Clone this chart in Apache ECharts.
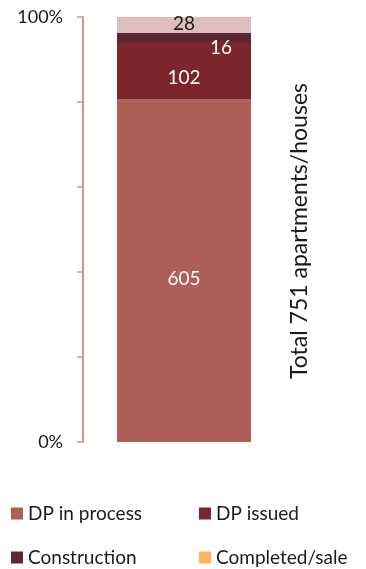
<!DOCTYPE html>
<html>
<head>
<meta charset="utf-8">
<script src="https://cdn.jsdelivr.net/npm/echarts@6/dist/echarts.min.js"></script>
<style>html,body{margin:0;padding:0;background:#fff;}#c{width:366px;height:569px;}</style>
</head>
<body>
<div id="c"></div>
<script>
var categories = ['Total'];
var dpInProcess = [605];
var dpIssued = [102];
var construction = [16];
var completedSale = [28];
var yTickLabels = ['0%', '100%'];
var sideTitle = 'Total 751 apartments/houses';

var total = dpInProcess[0] + dpIssued[0] + construction[0] + completedSale[0];
function pct(arr) { return arr.map(function (v) { return v / total * 100; }); }
var FONT = 'Lato';
var TXT = '#1a1a1a';

function legendItem(name, left, top) {
  return { left: left, top: top, orient: 'horizontal', itemWidth: 12, itemHeight: 12,
    icon: 'rect', data: [name], selectedMode: false,
    textStyle: { fontSize: 19, color: TXT, fontFamily: FONT } };
}

var chart = echarts.init(document.getElementById('c'));
chart.setOption({
  animation: false,
  textStyle: { fontFamily: FONT },
  grid: { left: 83, top: 17, width: 202, height: 425 },
  xAxis: { type: 'category', data: categories, show: false },
  yAxis: {
    type: 'value', min: 0, max: 100, interval: 20,
    axisLine: { show: true, lineStyle: { color: '#C8705F', width: 1.5 } },
    axisTick: { show: true, length: 6, lineStyle: { color: '#D9958A', width: 1.5 } },
    splitLine: { show: false },
    axisLabel: {
      margin: 20, fontSize: 18, color: TXT, fontFamily: FONT,
      formatter: function (v) { return v === 0 ? yTickLabels[0] : (v === 100 ? yTickLabels[1] : ''); }
    }
  },
  legend: [
    legendItem('DP in process', 6, 499),
    legendItem('DP issued', 194, 499),
    legendItem('Construction', 6, 543),
    legendItem('Completed/sale', 194, 543)
  ],
  graphic: [{
    type: 'text', x: 300, y: 231, rotation: Math.PI / 2,
    style: { text: sideTitle, fontSize: 23, fontFamily: FONT, fill: TXT, align: 'center', verticalAlign: 'middle' }
  }],
  series: [
    { name: 'DP in process', type: 'bar', stack: 's', barWidth: 134, data: pct(dpInProcess),
      itemStyle: { color: '#AD5F57' },
      label: { show: true, position: 'inside', offset: [0, 8], color: '#fff', fontSize: 19, fontFamily: FONT,
        formatter: function () { return String(dpInProcess[0]); } } },
    { name: 'DP issued', type: 'bar', stack: 's', barWidth: 134, data: pct(dpIssued),
      itemStyle: { color: '#7C252C' },
      label: { show: true, position: 'inside', offset: [0, 7], color: '#fff', fontSize: 19, fontFamily: FONT,
        formatter: function () { return String(dpIssued[0]); } } },
    { name: 'Construction', type: 'bar', stack: 's', barWidth: 134, data: pct(construction),
      itemStyle: { color: '#5E2830' },
      label: { show: true, position: 'insideRight', offset: [-14, 11], color: '#fff', fontSize: 19, fontFamily: FONT,
        formatter: function () { return String(construction[0]); } } },
    { name: 'Completed/sale', type: 'bar', stack: 's', barWidth: 134,
      data: pct(completedSale).map(function (v) { return { value: v, itemStyle: { color: '#DFBDBB' } }; }),
      itemStyle: { color: '#FFB55A' },
      label: { show: true, position: 'inside', offset: [0, -1], color: TXT, fontSize: 19, fontFamily: FONT,
        formatter: function () { return String(completedSale[0]); } } }
  ]
});
</script>
</body>
</html>
